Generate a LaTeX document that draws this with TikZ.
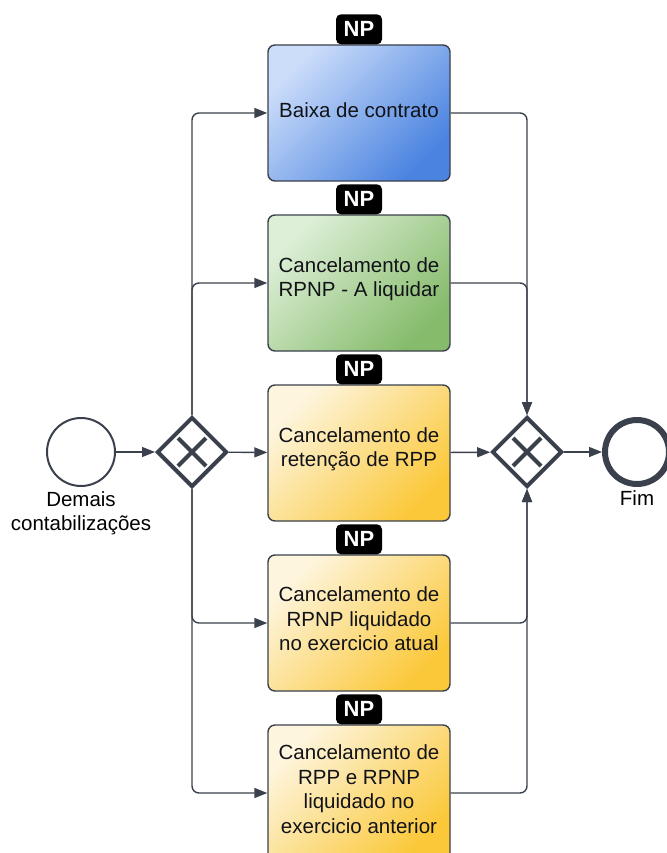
\documentclass[tikz,border=0pt]{standalone}
\usepackage{fontspec}
\setmainfont{Liberation Sans}
\usetikzlibrary{shapes.geometric,arrows.meta}
\definecolor{ln}{HTML}{3B414C}
\definecolor{txt}{HTML}{121318}
\definecolor{blueA}{HTML}{CCDDFA}
\definecolor{blueB}{HTML}{4A83E0}
\definecolor{greenA}{HTML}{DDEFD7}
\definecolor{greenB}{HTML}{86BB6B}
\definecolor{yelA}{HTML}{FDF5DE}
\definecolor{yelB}{HTML}{FBC839}
\tikzset{
  task/.style={draw=ln, line width=1.4pt, rounded corners=7pt, minimum width=182pt, minimum height=136pt, inner sep=0pt},
  tasktext/.style={align=center, text=txt, font=\fontsize{20.5}{24.5}\selectfont, inner sep=0pt},
  bluetask/.style={task, top color=blueA, bottom color=blueB, shading angle=45},
  greentask/.style={task, top color=greenA, bottom color=greenB, shading angle=45},
  yeltask/.style={task, top color=yelA, bottom color=yelB, shading angle=45},
  badge/.style={fill=black, rounded corners=5pt, minimum width=46pt, minimum height=30pt, inner sep=0pt,
    text=white, font=\fontsize{22}{22}\selectfont\bfseries},
  gate/.style={diamond, draw=ln, line width=4pt, minimum width=70pt, minimum height=70pt, inner sep=0pt, fill=white},
  xmark/.style={draw=ln, line width=4pt},
  flow/.style={draw=ln, line width=1.4pt, rounded corners=7pt, -{Triangle[length=13pt,width=10pt]}},
  lbl/.style={align=center, font=\fontsize{20.5}{24}\selectfont, text=black, inner sep=1pt},
}
\begin{document}
\begin{tikzpicture}[x=1pt,y=-1pt]
\useasboundingbox (0,0) rectangle (666,853);
% tasks
\node[bluetask]  (b1) at (359,113) {};
\node[greentask] (b2) at (359,283) {};
\node[yeltask]   (b3) at (359,453) {};
\node[yeltask]   (b4) at (359,623) {};
\node[yeltask]   (b5) at (359,793) {};
\node[tasktext] (t1) at ([yshift=3pt]b1.center) {Baixa de contrato};
\node[tasktext] (t2) at ([yshift=4pt]b2.center) {Cancelamento de\\RPNP - A liquidar};
\node[tasktext] (t3) at ([yshift=4pt]b3.center) {Cancelamento de\\retenção de RPP};
\node[tasktext] (t4) at ([yshift=4pt]b4.center) {Cancelamento de\\RPNP liquidado\\no exercicio atual};
\node[tasktext] (t5) at ([yshift=4pt]b5.center) {Cancelamento de\\RPP e RPNP\\liquidado no\\exercicio anterior};
% badges
\node[badge] (np1) at ([yshift=15pt]b1.north) {NP};
\node[badge] (np2) at ([yshift=15pt]b2.north) {NP};
\node[badge] (np3) at ([yshift=15pt]b3.north) {NP};
\node[badge] (np4) at ([yshift=15pt]b4.north) {NP};
\node[badge] (np5) at ([yshift=15pt]b5.north) {NP};
% events
\node[circle, draw=ln, line width=2pt, minimum size=68pt, inner sep=0pt, fill=white] (start) at (81,452) {};
\node[lbl, anchor=north] (startlbl) at ([yshift=-3pt]start.south) {Demais\\contabilizações};
\node[circle, draw=ln, line width=6pt, minimum size=64pt, inner sep=0pt, fill=white] (end) at (637,452) {};
\node[lbl, anchor=north] (endlbl) at ([yshift=-2pt]end.south) {Fim};
% gateways
\node[gate] (gw1) at (192,452) {};
\node[gate] (gw2) at (527,452) {};
\draw[xmark] ([shift={(-14pt,-14pt)}]gw1.center) -- ([shift={(14pt,14pt)}]gw1.center);
\draw[xmark] ([shift={(-14pt,14pt)}]gw1.center) -- ([shift={(14pt,-14pt)}]gw1.center);
\draw[xmark] ([shift={(-14pt,-14pt)}]gw2.center) -- ([shift={(14pt,14pt)}]gw2.center);
\draw[xmark] ([shift={(-14pt,14pt)}]gw2.center) -- ([shift={(14pt,-14pt)}]gw2.center);
% flows
\draw[flow] (start) -- (gw1);
\draw[flow] (gw1) -- (b3);
\draw[flow] (gw1.north) |- (b1.west);
\draw[flow] (gw1.north) |- (b2.west);
\draw[flow] (gw1.south) |- (b4.west);
\draw[flow] (gw1.south) |- (b5.west);
\draw[flow] (b1.east) -| (gw2.north);
\draw[flow] (b2.east) -| (gw2.north);
\draw[flow] (b3) -- (gw2);
\draw[flow] (b4.east) -| (gw2.south);
\draw[flow] (b5.east) -| (gw2.south);
\draw[flow] (gw2) -- (end);
\end{tikzpicture}
\end{document}
